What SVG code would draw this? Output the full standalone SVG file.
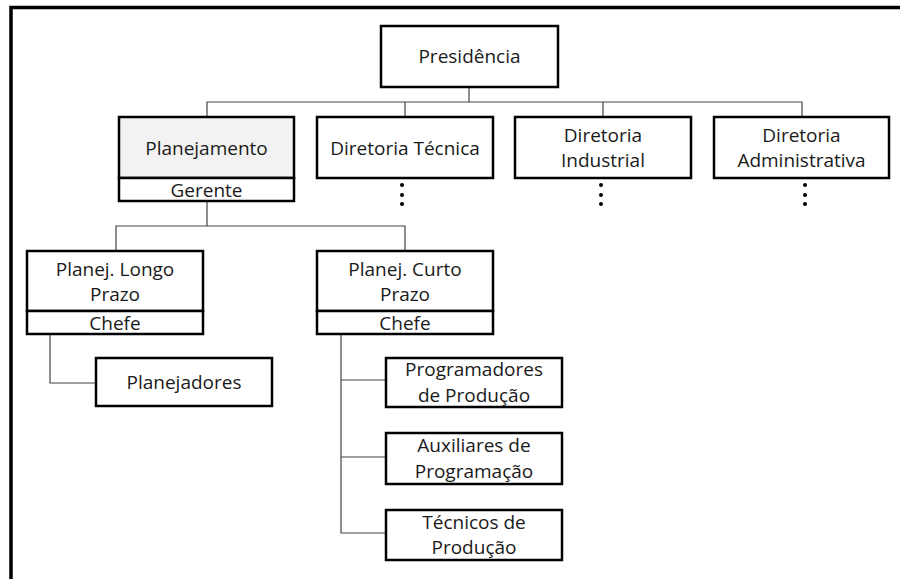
<svg xmlns="http://www.w3.org/2000/svg" width="900" height="579" viewBox="0 0 900 579">
<style>
.box{fill:#fff;stroke:#000;stroke-width:2.5}
.gray{fill:#f2f2f2}
.t{font-family:"Open Sans","Liberation Sans",sans-serif;font-size:19px;fill:#1a1a1a;text-anchor:middle}
.c{stroke:#444;stroke-width:1.2;fill:none}
.dot{fill:#000}
</style>
<rect x="0" y="0" width="900" height="579" fill="#fff"/>
<rect x="11" y="7.5" width="900" height="600" fill="none" stroke="#000" stroke-width="3.5"/>
<g id="connectors">
<path class="c" d="M469,87V102M207,117V102H802V117M405,102V117M603,102V117"/>
<path class="c" d="M207,201V226M116,251V226H405V251"/>
<path class="c" d="M50,334V383H96"/>
<path class="c" d="M341,334V533H386M341,380H386M341,457H386"/>
</g>
<g id="presidencia"><rect class="box" x="381" y="26" width="177" height="61"/><text class="t" x="469.5" y="63">Presidência</text></g>
<g id="planejamento"><rect class="box gray" x="119" y="117" width="175" height="61"/><rect class="box" x="119" y="178" width="175" height="23"/><text class="t" x="206.5" y="155">Planejamento</text><text class="t" x="206.5" y="197">Gerente</text></g>
<g id="dir-tecnica"><rect class="box" x="317" y="117" width="176" height="61"/><text class="t" x="405" y="155">Diretoria Técnica</text>
<circle class="dot" cx="402" cy="185" r="2"/><circle class="dot" cx="402" cy="195" r="2"/><circle class="dot" cx="402" cy="204" r="2"/></g>
<g id="dir-industrial"><rect class="box" x="515" y="117" width="176" height="61"/><text class="t" x="603" y="142">Diretoria</text><text class="t" x="603" y="167">Industrial</text>
<circle class="dot" cx="601" cy="185" r="2"/><circle class="dot" cx="601" cy="195" r="2"/><circle class="dot" cx="601" cy="204" r="2"/></g>
<g id="dir-administrativa"><rect class="box" x="714" y="117" width="175" height="61"/><text class="t" x="801.5" y="142">Diretoria</text><text class="t" x="801.5" y="167">Administrativa</text>
<circle class="dot" cx="805" cy="185" r="2"/><circle class="dot" cx="805" cy="195" r="2"/><circle class="dot" cx="805" cy="204" r="2"/></g>
<g id="longo-prazo"><rect class="box" x="27" y="251" width="176" height="60"/><rect class="box" x="27" y="311" width="176" height="23"/><text class="t" x="115" y="276">Planej. Longo</text><text class="t" x="115" y="301">Prazo</text><text class="t" x="115" y="330">Chefe</text></g>
<g id="curto-prazo"><rect class="box" x="317" y="251" width="176" height="60"/><rect class="box" x="317" y="311" width="176" height="23"/><text class="t" x="405" y="276">Planej. Curto</text><text class="t" x="405" y="301">Prazo</text><text class="t" x="405" y="330">Chefe</text></g>
<g id="planejadores"><rect class="box" x="96" y="358" width="176" height="48"/><text class="t" x="184" y="389">Planejadores</text></g>
<g id="programadores"><rect class="box" x="386" y="358" width="176" height="49"/><text class="t" x="474" y="376">Programadores</text><text class="t" x="474" y="402">de Produção</text></g>
<g id="auxiliares"><rect class="box" x="386" y="433" width="176" height="51"/><text class="t" x="474" y="452">Auxiliares de</text><text class="t" x="474" y="478">Programação</text></g>
<g id="tecnicos"><rect class="box" x="386" y="510" width="176" height="50"/><text class="t" x="474" y="529">Técnicos de</text><text class="t" x="474" y="554">Produção</text></g>
</svg>
